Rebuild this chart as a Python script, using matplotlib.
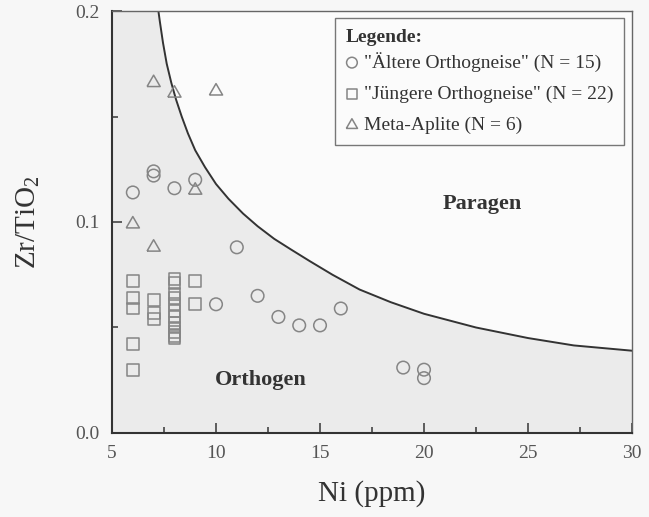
import numpy as np
import matplotlib
matplotlib.use("Agg")
import matplotlib.pyplot as plt
from matplotlib.ticker import MultipleLocator, FormatStrFormatter

plt.rcParams["font.family"] = ["Liberation Serif", "DejaVu Serif"]
plt.rcParams["mathtext.fontset"] = "custom"
plt.rcParams["mathtext.rm"] = "Liberation Serif"
plt.rcParams["mathtext.it"] = "Liberation Serif:italic"

# "Ältere Orthogneise" (circles)
alt_ni = [6, 7, 7, 8, 9, 10, 11, 12, 13, 14, 15, 16, 19, 20, 20]
alt_zr = [0.114, 0.124, 0.122, 0.116, 0.120, 0.061, 0.088, 0.065, 0.055, 0.051, 0.051, 0.059, 0.031, 0.030, 0.026]

# "Jüngere Orthogneise" (squares)
jung_ni = [6, 6, 6, 6, 6, 7, 7, 7,
           8, 8, 8, 8, 8, 8, 8, 8, 8, 8, 8, 8,
           9, 9]
jung_zr = [0.072, 0.064, 0.059, 0.042, 0.030, 0.063, 0.057, 0.054,
           0.073, 0.071, 0.066, 0.064, 0.061, 0.058, 0.055, 0.052, 0.050, 0.048, 0.046, 0.045,
           0.072, 0.061]

# Meta-Aplite (triangles)
apl_ni = [6, 7, 7, 8, 9, 10]
apl_zr = [0.099, 0.088, 0.166, 0.161, 0.115, 0.162]

# boundary orthogen / paragen
bound_ni = [7.23, 7.3, 7.45, 7.63, 7.85, 8.08, 8.35, 8.65, 9.0, 9.47, 10.0, 10.6, 11.3,
            12.0, 12.8, 13.6, 14.5, 15.6, 16.9, 18.4, 20.0, 22.5, 25.0, 27.2, 30.0]
bound_zr = [0.200, 0.195, 0.185, 0.175, 0.166, 0.158, 0.150, 0.142, 0.134, 0.126, 0.118, 0.111, 0.104,
            0.098, 0.092, 0.087, 0.0815, 0.075, 0.068, 0.062, 0.0565, 0.050, 0.045, 0.0415, 0.039]

fig = plt.figure(figsize=(6.49, 5.17), dpi=100, facecolor="#f7f7f7")
ax = fig.add_axes([0.1726, 0.1625, 0.8012, 0.8162])
ax.set_facecolor("#fbfbfb")

xmin, xmax, ymin, ymax = 5, 30, 0.0, 0.2
fill_x = [xmin] + bound_ni
fill_y = [ymax] + bound_zr
ax.fill_between(fill_x, ymin, fill_y, color="#ebebeb", lw=0, zorder=0)
ax.plot(bound_ni, bound_zr, color="#333333", lw=1.4, zorder=1)

# closed equilateral triangle, a bit wider than tall like the original symbols
tri = [(-1, -0.577), (1, -0.577), (0, 1.155), (-1, -0.577)]

mk = dict(facecolors="none", edgecolors="#858585", linewidths=1.1, zorder=3)
ax.scatter(alt_ni, alt_zr, marker="o", s=82, label='"Ältere Orthogneise" (N = 15)', **mk)
ax.scatter(jung_ni, jung_zr, marker="s", s=72, label='"Jüngere Orthogneise" (N = 22)', **mk)
ax.scatter(apl_ni, apl_zr, marker=tri, s=120, label="Meta-Aplite (N = 6)", **mk)

ax.text(22.8, 0.1085, "Paragen", fontsize=16, fontweight="bold", color="#333333",
        ha="center", va="center")
ax.text(12.16, 0.0251, "Orthogen", fontsize=16, fontweight="bold", color="#333333",
        ha="center", va="center")

ax.set_xlim(xmin, xmax)
ax.set_ylim(ymin, ymax)
ax.xaxis.set_major_locator(MultipleLocator(5))
ax.xaxis.set_minor_locator(MultipleLocator(2.5))
ax.yaxis.set_major_locator(MultipleLocator(0.1))
ax.yaxis.set_minor_locator(MultipleLocator(0.05))
ax.yaxis.set_major_formatter(FormatStrFormatter("%.1f"))
ax.tick_params(which="both", direction="in", colors="#444444", labelcolor="#555555",
               labelsize=14, width=1.2)
ax.tick_params(which="major", length=7, pad=9)
ax.tick_params(which="minor", length=4)

for side in ["left", "bottom"]:
    ax.spines[side].set_color("#333333")
    ax.spines[side].set_linewidth(1.5)
for side in ["top", "right"]:
    ax.spines[side].set_color("#666666")
    ax.spines[side].set_linewidth(1.0)

ax.set_xlabel("Ni (ppm)", fontsize=21, color="#333333", labelpad=13)
ax.set_ylabel("Zr/TiO$_2$", fontsize=21, color="#333333", labelpad=24)

leg = ax.legend(loc="upper right", bbox_to_anchor=(0.985, 0.983), borderaxespad=0,
                title="Legende:", alignment="left", fontsize=14,
                title_fontproperties={"weight": "bold", "size": 14},
                frameon=True, fancybox=False, edgecolor="#777777", facecolor="#fbfbfb",
                framealpha=1, handlelength=0.6, handletextpad=0.3, labelspacing=0.7,
                borderpad=0.5, scatterpoints=1, markerscale=0.85)
leg.get_frame().set_linewidth(1.0)
# gap between title and entries, padding at the frame (points)
leg._legend_box.sep = 4
leg._legend_box.pad = 8
for t in leg.get_texts():
    t.set_color("#333333")
leg.get_title().set_color("#333333")

fig.savefig("out.png", dpi=100, facecolor=fig.get_facecolor())
